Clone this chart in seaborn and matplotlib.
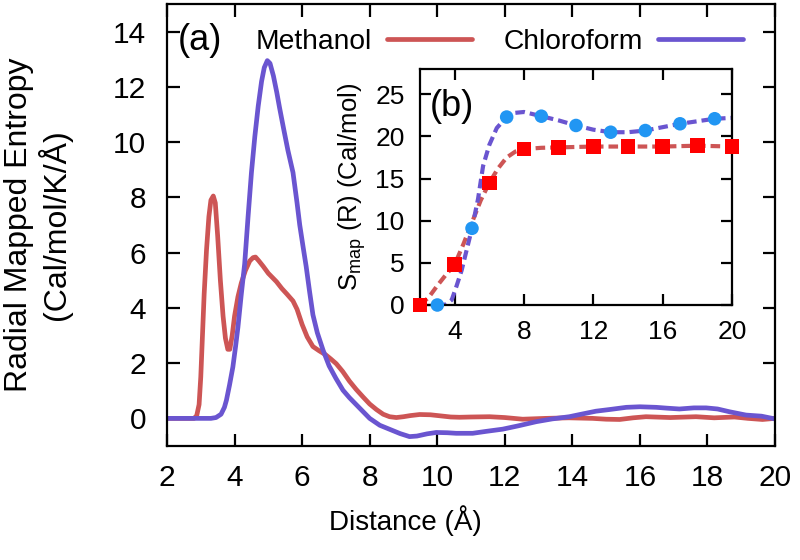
import numpy as np
import pandas as pd
import matplotlib
matplotlib.use("Agg")
import matplotlib.pyplot as plt
import seaborn as sns

# ---------------- data ----------------
meth_x = [2.0, 2.8, 2.88, 2.95, 3.0, 3.05, 3.1, 3.17, 3.24, 3.3, 3.37, 3.43, 3.5, 3.58,
          3.66, 3.73, 3.8, 3.86, 3.93, 4.0, 4.1, 4.2, 4.32, 4.45, 4.55, 4.62, 4.72, 4.85,
          5.0, 5.12, 5.24, 5.4, 5.55, 5.73, 5.85, 6.0, 6.15, 6.32, 6.5, 6.7, 6.85, 7.01,
          7.2, 7.4, 7.6, 7.8, 8.0, 8.2, 8.4, 8.59, 8.79, 9.0, 9.2, 9.48, 9.8, 10.1, 10.4,
          10.66, 11.0, 11.55, 12.0, 12.53, 13.2, 13.9, 14.6, 15.0, 15.4, 15.8, 16.18,
          16.9, 17.66, 18.2, 18.8, 19.2, 19.63, 20.0]
meth_y = [0.0, 0.0, 0.1, 0.5, 1.5, 3.0, 4.5, 6.1, 7.3, 7.9, 8.05, 7.8, 6.6, 5.0,
          3.7, 2.9, 2.5, 2.5, 3.0, 3.7, 4.4, 4.9, 5.35, 5.7, 5.82, 5.84, 5.7, 5.5,
          5.25, 5.1, 4.95, 4.7, 4.5, 4.25, 3.95, 3.4, 2.95, 2.6, 2.45, 2.3, 2.15, 1.98,
          1.7, 1.35, 1.05, 0.78, 0.52, 0.32, 0.15, 0.06, 0.03, 0.06, 0.1, 0.14, 0.13, 0.09, 0.05,
          0.04, 0.05, 0.06, 0.03, -0.03, 0.0, 0.02, 0.0, -0.03, -0.04, 0.02, 0.06,
          0.03, 0.06, 0.02, 0.05, 0.0, -0.04, 0.0]

chlo_x = [2.0, 3.3, 3.45, 3.6, 3.7, 3.76, 3.85, 3.95, 4.03, 4.1, 4.2, 4.3, 4.4, 4.5,
          4.6, 4.7, 4.8, 4.88, 4.97, 5.05, 5.15, 5.25, 5.33, 5.45, 5.58, 5.73, 5.85, 5.93,
          6.03, 6.12, 6.22, 6.32, 6.45, 6.62, 6.8, 7.0, 7.21, 7.4, 7.6, 7.8, 8.0, 8.3,
          8.6, 8.9, 9.18, 9.4, 9.7, 9.97, 10.3, 10.56, 11.05, 11.45, 11.94, 12.4, 12.93,
          13.4, 13.91, 14.3, 14.7, 15.1, 15.6, 16.0, 16.48, 16.8, 17.17, 17.6, 17.96,
          18.3, 18.65, 19.14, 19.6, 20.0]
chlo_y = [0.0, 0.0, 0.03, 0.15, 0.4, 0.66, 1.2, 1.86, 2.6, 3.3, 4.5, 5.6, 7.3, 8.9,
          10.2, 11.3, 12.2, 12.7, 12.95, 12.85, 12.4, 11.8, 11.26, 10.5, 9.7, 8.9, 7.8, 7.0,
          6.2, 5.5, 4.6, 3.75, 3.1, 2.47, 1.9, 1.45, 1.02, 0.75, 0.5, 0.25, 0.0, -0.25,
          -0.4, -0.55, -0.66, -0.64, -0.56, -0.51, -0.52, -0.54, -0.54, -0.47, -0.39, -0.27, -0.12,
          -0.02, 0.06, 0.16, 0.26, 0.32, 0.4, 0.42, 0.4, 0.37, 0.34, 0.38, 0.38,
          0.34, 0.24, 0.12, 0.08, -0.02]

# inset: symbols
meth_pts_x = [2, 4, 6, 8, 10, 12, 14, 16, 18, 20]
meth_pts_y = [0.0, 4.8, 14.5, 18.5, 18.7, 18.8, 18.8, 18.8, 18.9, 18.8]
chlo_pts_x = [3, 5, 7, 9, 11, 13, 15, 17, 19]
chlo_pts_y = [0.0, 9.1, 22.3, 22.4, 21.3, 20.5, 20.7, 21.5, 22.1]

# inset: dashed smooth curves
meth_fit_x = [2.0, 2.5, 3.0, 3.5, 4.0, 4.5, 5.0, 5.5, 6.0, 6.5, 7.0, 7.5, 8.0, 9.0,
              10.0, 12.0, 14.0, 16.0, 18.0, 20.0]
meth_fit_y = [0.0, 0.9, 2.3, 3.6, 4.8, 7.2, 9.8, 12.4, 14.5, 16.2, 17.5, 18.2, 18.5, 18.65,
              18.7, 18.8, 18.8, 18.8, 18.9, 18.8]
chlo_fit_x = [3.0, 3.5, 3.83, 4.1, 4.4, 4.7, 5.0, 5.35, 5.64, 6.0, 6.43, 7.0, 7.5, 8.0,
              9.0, 10.0, 11.0, 12.0, 13.0, 14.0, 15.0, 16.0, 17.0, 18.0, 19.0, 20.0]
chlo_fit_y = [0.0, 0.05, 0.6, 2.2, 4.1, 6.6, 9.1, 12.6, 16.5, 19.0, 21.0, 22.3, 22.8, 22.9,
              22.4, 21.9, 21.3, 20.8, 20.5, 20.5, 20.7, 21.1, 21.5, 21.8, 22.1, 22.2]

main_xticks = [2, 4, 6, 8, 10, 12, 14, 16, 18, 20]
main_yticks = [0, 2, 4, 6, 8, 10, 12, 14]
inset_xticks = [4, 8, 12, 16, 20]
inset_yticks = [0, 5, 10, 15, 20, 25]

# ---------------- style ----------------
sns.set_theme(style="ticks")
plt.rcParams['font.family'] = ['Liberation Sans', 'DejaVu Sans']
plt.rcParams['axes.linewidth'] = 1.6
plt.rcParams['text.color'] = 'black'
plt.rcParams['axes.labelcolor'] = 'black'
plt.rcParams['xtick.color'] = 'black'
plt.rcParams['ytick.color'] = 'black'
plt.rcParams['axes.edgecolor'] = 'black'
plt.rcParams['mathtext.fontset'] = 'custom'
plt.rcParams['mathtext.rm'] = 'Liberation Sans'
plt.rcParams['lines.solid_joinstyle'] = 'round'
plt.rcParams['lines.solid_capstyle'] = 'round'

RED_LINE = '#cd5555'
BLUE_LINE = '#6a55d0'
RED_PT = '#ff0000'
BLUE_PT = '#2196f3'

W, H = 800, 560
fig = plt.figure(figsize=(8, 5.6), dpi=100)
ax = fig.add_axes([167 / W, 1 - 446 / H, 608 / W, 442 / H])

df_m = pd.DataFrame({'x': meth_x, 'y': meth_y})
df_c = pd.DataFrame({'x': chlo_x, 'y': chlo_y})
sns.lineplot(data=df_m, x='x', y='y', ax=ax, color=RED_LINE, lw=3.4, sort=False,
             estimator=None, label='Methanol')
sns.lineplot(data=df_c, x='x', y='y', ax=ax, color=BLUE_LINE, lw=3.4, sort=False,
             estimator=None, label='Chloroform')

ax.set_xlim(2, 20)
ax.set_ylim(-1, 15)
ax.set_xticks(main_xticks)
ax.set_yticks(main_yticks)
ax.tick_params(direction='in', length=9, width=1.6, top=True, right=True,
               labelsize=21.5, colors='black')
ax.tick_params(axis='x', pad=13)
ax.tick_params(axis='y', pad=15)
ax.set_xlabel('Distance (Å)', fontsize=20, color='black')
ax.xaxis.set_label_coords((405 - 167) / 608, -0.135)
ax.set_ylabel('Radial Mapped Entropy\n(Cal/mol/K/Å)', fontsize=23, linespacing=1.1,
              color='black')
ax.yaxis.set_label_coords((72 - 167) / 608, 0.5)

leg = ax.legend(loc='center left', bbox_to_anchor=(256 / W, 1 - 42 / H),
                bbox_transform=fig.transFigure, ncol=2, frameon=False,
                markerfirst=False, fontsize=20.3, handlelength=3.0, columnspacing=1.13,
                handletextpad=0.53, borderpad=0, borderaxespad=0)
for t in leg.get_texts():
    t.set_color('black')
fig.text(178 / W, 1 - 40 / H, '(a)', fontsize=26, va='center', ha='left', color='black')

# ---------------- inset ----------------
axi = fig.add_axes([420 / W, 1 - 305 / H, 312 / W, 236 / H])
df_mf = pd.DataFrame({'x': meth_fit_x, 'y': meth_fit_y})
df_cf = pd.DataFrame({'x': chlo_fit_x, 'y': chlo_fit_y})
sns.lineplot(data=df_mf, x='x', y='y', ax=axi, color=RED_LINE, lw=3.0, sort=False,
             estimator=None, linestyle=(0, (2.3, 1.2)))
sns.lineplot(data=df_cf, x='x', y='y', ax=axi, color=BLUE_LINE, lw=3.0, sort=False,
             estimator=None, linestyle=(0, (2.3, 1.2)))
df_mp = pd.DataFrame({'x': meth_pts_x, 'y': meth_pts_y})
df_cp = pd.DataFrame({'x': chlo_pts_x, 'y': chlo_pts_y})
sns.scatterplot(data=df_mp, x='x', y='y', ax=axi, marker='s', s=110, color=RED_PT,
                edgecolor='none', clip_on=False, zorder=5)
sns.scatterplot(data=df_cp, x='x', y='y', ax=axi, marker='o', s=95, color=BLUE_PT,
                edgecolor='none', clip_on=False, zorder=5)
axi.set_xlim(2, 20)
axi.set_ylim(0, 28)
axi.set_xticks(inset_xticks)
axi.set_yticks(inset_yticks)
axi.tick_params(direction='in', length=8, width=1.6, top=True, right=True,
                labelsize=19, colors='black')
axi.tick_params(axis='x', pad=11)
axi.tick_params(axis='y', pad=11)
axi.set_xlabel('')
axi.set_ylabel(r'S$_{\rm map}$ (R) (Cal/mol)', fontsize=18.5, color='black')
axi.yaxis.set_label_coords((368 - 420) / 312, 0.5)
fig.text(430 / W, 1 - 106 / H, '(b)', fontsize=26, va='center', ha='left', color='black')

fig.savefig('out.png', dpi=100, facecolor='white')
